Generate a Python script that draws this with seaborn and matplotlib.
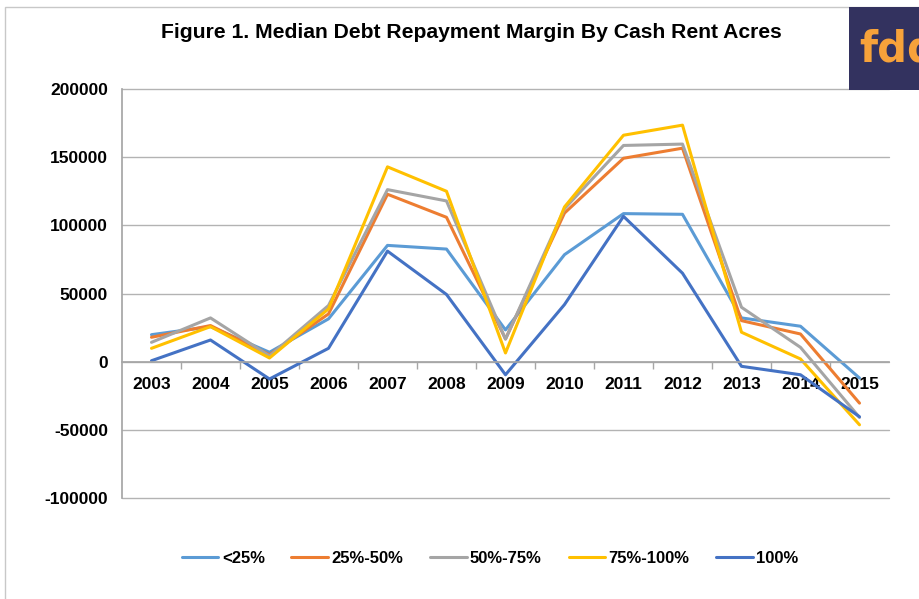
import numpy as np
import pandas as pd
import matplotlib.pyplot as plt
import seaborn as sns
from matplotlib.patches import Rectangle
from matplotlib.ticker import FixedLocator

years = ['2003', '2004', '2005', '2006', '2007', '2008', '2009',
         '2010', '2011', '2012', '2013', '2014', '2015']

under_25 = [19800, 25700, 6900, 31400, 85300, 82600, 23300,
            78500, 108600, 108100, 32100, 26000, -12000]
p25_50 = [17900, 26500, 5100, 35000, 122800, 105900, 16700,
          109000, 149200, 156600, 30100, 20300, -30400]
p50_75 = [14200, 32100, 4200, 41200, 126200, 117900, 16500,
          112200, 158600, 159600, 39900, 10500, -40900]
p75_100 = [9800, 25700, 2700, 38700, 142900, 125000, 6400,
           113500, 166100, 173500, 21600, 2000, -46300]
p100 = [700, 15900, -12700, 9800, 81100, 49300, -9600,
        41900, 106600, 64900, -3400, -9600, -40400]

series_names = ['<25%', '25%-50%', '50%-75%', '75%-100%', '100%']
series_vals = [under_25, p25_50, p50_75, p75_100, p100]
colors = ['#5b9bd5', '#ed7d31', '#a5a5a5', '#ffc000', '#4472c4']

rows = []
for name, vals in zip(series_names, series_vals):
    for i, v in enumerate(vals):
        rows.append({'pos': i, 'value': v, 'group': name})
df = pd.DataFrame(rows)

sns.set_theme(style='white')
plt.rcParams['font.family'] = ['Liberation Sans', 'DejaVu Sans']
plt.rcParams['font.weight'] = 'bold'
plt.rcParams['text.color'] = 'black'
plt.rcParams['xtick.color'] = 'black'
plt.rcParams['ytick.color'] = 'black'

fig = plt.figure(figsize=(9.2, 5.99), dpi=100)
ax = fig.add_axes([0.1326, 0.1686, 0.8337, 0.6828])

sns.lineplot(data=df, x='pos', y='value', hue='group', palette=colors,
             hue_order=series_names, linewidth=2.2, ax=ax, legend=True)

ax.set_xlim(-0.5, len(years) - 0.5)
ax.set_ylim(-100000, 200000)
ax.set_yticks(np.arange(-100000, 200001, 50000))
ax.set_yticklabels([f'{v:d}' for v in range(-100000, 200001, 50000)])
ax.yaxis.grid(True, color='#b3b3b3', linewidth=1)
for gl in ax.get_ygridlines():
    gl.set_clip_on(False)
ax.set_axisbelow(True)

ax.set_xticks(range(len(years)))
ax.set_xticklabels(years)
ax.xaxis.set_minor_locator(FixedLocator(np.arange(0.5, len(years) - 1, 1)))
ax.tick_params(axis='x', which='major', length=0, pad=11, labelsize=12.5,
               labelcolor='black')
ax.tick_params(axis='x', which='minor', length=5, width=1, color='#a6a6a6',
               direction='out', bottom=True)
ax.tick_params(axis='y', length=0, pad=10, labelsize=12.5, labelcolor='black')
for lab in ax.get_xticklabels() + ax.get_yticklabels():
    lab.set_fontweight('bold')

for s in ['top', 'right']:
    ax.spines[s].set_visible(False)
ax.spines['bottom'].set_position(('data', 0))
ax.spines['bottom'].set_color('#a6a6a6')
ax.spines['left'].set_color('#a6a6a6')
ax.set_xlabel('')
ax.set_ylabel('')

leg = ax.legend(loc='center', bbox_to_anchor=(0.48, -0.147), ncol=5,
                frameon=False, handlelength=2.2, handletextpad=0.2,
                columnspacing=1.6, prop={'weight': 'bold', 'size': 12})
for t in leg.get_texts():
    t.set_color('black')

fig.text(0.512, 1 - 32.5 / 599,
         'Figure 1. Median Debt Repayment Margin By Cash Rent Acres',
         ha='center', va='center', fontsize=15.2, fontweight='bold',
         color='black')

# chart frame
fig.add_artist(Rectangle((5 / 920, -0.1), 1.2, 1 - 7 / 599 + 0.1,
                         transform=fig.transFigure, fill=False,
                         edgecolor='#c8c8c8', linewidth=1))
# logo
fig.add_artist(Rectangle((849 / 920, 1 - 90 / 599), 71 / 920, 83 / 599,
                         transform=fig.transFigure, facecolor='#33325f',
                         edgecolor='none'))
fig.text(859 / 920, 1 - 50 / 599, 'fdd', ha='left', va='center',
         fontsize=30, fontweight='bold', color='#f7a23a',
         family=['DejaVu Sans'])

fig.savefig('out.png', dpi=100)
